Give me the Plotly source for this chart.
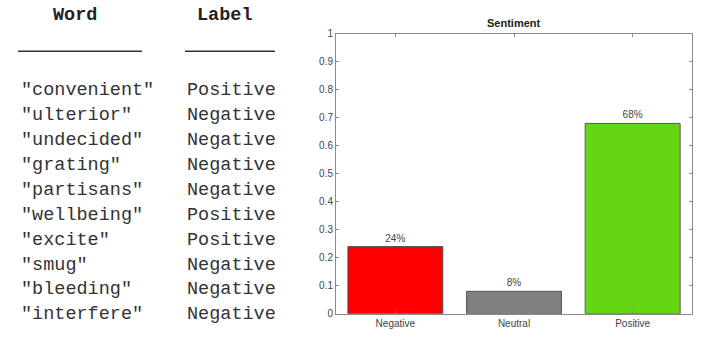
import plotly.graph_objects as go

words = ['"convenient"', '"ulterior"', '"undecided"', '"grating"', '"partisans"',
         '"wellbeing"', '"excite"', '"smug"', '"bleeding"', '"interfere"']
labels = ["Positive", "Negative", "Negative", "Negative", "Negative",
          "Positive", "Positive", "Negative", "Negative", "Negative"]

categories = ["Negative", "Neutral", "Positive"]
values = [0.24, 0.08, 0.68]
bar_text = ["24%", "8%", "68%"]
bar_colors = ["#ff0000", "#808080", "#64d614"]
y_ticks = [0, 0.1, 0.2, 0.3, 0.4, 0.5, 0.6, 0.7, 0.8, 0.9, 1]

W, H = 704, 338


def py(t):
    # map a target screen y (pixels) to figure y, compensating observed render offset
    return (t - 4.1) / 0.968


fig = go.Figure()

fig.add_trace(go.Bar(
    x=categories, y=values, width=0.8,
    marker=dict(color=bar_colors, line=dict(color="#555555", width=1)),
    text=bar_text, textposition="outside", cliponaxis=False,
    textfont=dict(family="Liberation Sans", size=10, color="#444444"),
    xaxis="x", yaxis="y", showlegend=False, hoverinfo="skip",
))

# invisible trace for table axis
fig.add_trace(go.Scatter(x=[0], y=[0], mode="markers", marker=dict(opacity=0),
                         xaxis="x2", yaxis="y2", showlegend=False, hoverinfo="skip"))

axis_common = dict(showline=True, linecolor="#8a8a8a", linewidth=1, mirror="ticks",
                   ticks="inside", ticklen=3, tickcolor="#8a8a8a",
                   showgrid=False, zeroline=False,
                   tickfont=dict(family="Liberation Sans", size=10, color="#444444"))

annotations = []
shapes = []
tf = "Liberation Mono"
fs = 18.5
annotations.append(dict(x=74.5, y=py(15), xref="x2", yref="y2", text="<b>Word</b>", showarrow=False,
                        font=dict(family=tf, size=fs, color="#222222"), xanchor="center", yanchor="middle"))
annotations.append(dict(x=225, y=py(15), xref="x2", yref="y2", text="<b>Label</b>", showarrow=False,
                        font=dict(family=tf, size=fs, color="#222222"), xanchor="center", yanchor="middle"))
shapes.append(dict(type="line", xref="x2", yref="y2", x0=18, x1=142, y0=py(50.5), y1=py(50.5),
                   line=dict(color="#333333", width=1.5)))
shapes.append(dict(type="line", xref="x2", yref="y2", x0=185, x1=275, y0=py(50.5), y1=py(50.5),
                   line=dict(color="#333333", width=1.5)))
for i, (w, l) in enumerate(zip(words, labels)):
    yy = py(90 + i * 24.9)
    annotations.append(dict(x=19, y=yy, xref="x2", yref="y2", text=w, showarrow=False,
                            font=dict(family=tf, size=fs, color="#333333"), xanchor="left", yanchor="middle"))
    annotations.append(dict(x=185, y=yy, xref="x2", yref="y2", text=l, showarrow=False,
                            font=dict(family=tf, size=fs, color="#333333"), xanchor="left", yanchor="middle"))

annotations.append(dict(x=(336 + 692) / 2 / W, y=1 - py(22) / H, xref="paper", yref="paper",
                        text="<b>Sentiment</b>", showarrow=False,
                        font=dict(family="Liberation Sans", size=11, color="#222222"),
                        xanchor="center", yanchor="middle"))

fig.update_layout(
    width=W, height=H,
    margin=dict(l=0, r=0, t=0, b=0),
    paper_bgcolor="white", plot_bgcolor="white",
    xaxis=dict(domain=[336 / W, 692 / W], range=[-0.5, 2.5], anchor="y", **axis_common),
    yaxis=dict(domain=[1 - py(313) / H, 1 - py(33) / H], range=[0, 1], tickvals=y_ticks,
               ticktext=[f"{v:g}" for v in y_ticks], anchor="x", **axis_common),
    xaxis2=dict(domain=[0, 300 / W], range=[0, 300], visible=False, anchor="y2"),
    yaxis2=dict(domain=[0, 1], range=[H, 0], visible=False, anchor="x2"),
    annotations=annotations, shapes=shapes,
    bargap=0.2,
)

fig.write_html(
    "out.html",
    config={"displayModeBar": False, "staticPlot": True},
    post_script=(
        "var s=document.createElement('style');"
        "s.textContent='html,body{margin:0;padding:0;height:338px;overflow:hidden;}';"
        "document.head.appendChild(s);"
    ),
)
